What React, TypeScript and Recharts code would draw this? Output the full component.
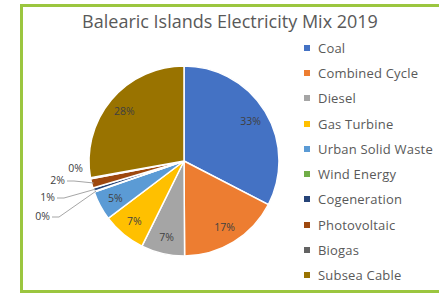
import React from 'react';
import { PieChart, Pie, Cell, Legend } from 'recharts';

const categories = [
  'Coal',
  'Combined Cycle',
  'Diesel',
  'Gas Turbine',
  'Urban Solid Waste',
  'Wind Energy',
  'Cogeneration',
  'Photovoltaic',
  'Biogas',
  'Subsea Cable',
];
// share of generation, %
const shares = [32.6, 17.3, 7.4, 7.4, 5.0, 0.1, 0.6, 1.6, 0.2, 27.8];
const colors = [
  '#4472C4',
  '#ED7D31',
  '#A5A5A5',
  '#FFC000',
  '#5B9BD5',
  '#70AD47',
  '#264478',
  '#9E480E',
  '#636363',
  '#997300',
];

const data = categories.map((name, i) => ({ name, value: shares[i] }));

const CX = 179;
const CY = 156;
const R = 95;
const RAD = Math.PI / 180;
const FONT = '"Open Sans", "Noto Sans", sans-serif';

// where the callouts of the thin slices sit, relative to the pie centre
const callouts: Record<number, { dx: number; dy: number; line: boolean }> = {
  5: { dx: -134, dy: 55, line: true },
  6: { dx: -129, dy: 36, line: true },
  7: { dx: -119, dy: 19, line: true },
  8: { dx: -101, dy: 7, line: false },
};

const renderLabel = (props: any) => {
  const { cx, cy, midAngle, outerRadius, percent, index } = props;
  const text = `${Math.round(percent * 100)}%`;
  const c = callouts[index];
  if (!c) {
    const r = outerRadius * 0.82;
    const x = cx + r * Math.cos(-midAngle * RAD);
    const y = cy + r * Math.sin(-midAngle * RAD);
    return (
      <text x={x} y={y} fill="#404040" fontSize={10.5} fontFamily={FONT} textAnchor="middle" dominantBaseline="central">
        {text}
      </text>
    );
  }
  const tx = cx + c.dx;
  const ty = cy + c.dy;
  const ex = cx + (outerRadius - 2) * Math.cos(-midAngle * RAD);
  const ey = cy + (outerRadius - 2) * Math.sin(-midAngle * RAD);
  return (
    <g>
      {c.line && (
        <polyline
          points={`${tx + 2},${ty + 1} ${tx + 9},${ty + 1} ${ex},${ey}`}
          fill="none"
          stroke="#A6A6A6"
          strokeWidth={1}
        />
      )}
      <text x={tx} y={ty} fill="#404040" fontSize={10.5} fontFamily={FONT} textAnchor="end" dominantBaseline="central">
        {text}
      </text>
    </g>
  );
};

const LegendList = () => (
  <div style={{ fontFamily: FONT, fontSize: 13, letterSpacing: 0.2, color: '#595959' }}>
    {categories.map((name, i) => (
      <div key={name} style={{ height: 25.3, display: 'flex', alignItems: 'center', whiteSpace: 'nowrap' }}>
        <span style={{ width: 6, height: 6, background: colors[i], marginRight: 8, display: 'inline-block' }} />
        {name}
      </div>
    ))}
  </div>
);

export default function App() {
  return (
    <div style={{ position: 'absolute', left: 0, top: 0, width: 439, height: 293, overflow: 'hidden', background: '#fff' }}>
      <div
        style={{
          position: 'absolute',
          left: 20,
          top: 4,
          width: 440,
          height: 283,
          borderLeft: '3px solid #9BC63F',
          borderTop: '3px solid #9BC63F',
          borderBottom: '3px solid #9BC63F',
        }}
      />
      <div
        style={{
          position: 'absolute',
          left: 0,
          top: 9,
          width: 460,
          textAlign: 'center',
          fontFamily: FONT,
          fontSize: 18,
          color: '#595959',
        }}
      >
        Balearic Islands Electricity Mix 2019
      </div>
      <div style={{ position: 'absolute', left: 0, top: 0 }}>
        <PieChart width={439} height={293}>
          <Pie
            data={data}
            dataKey="value"
            nameKey="name"
            cx={CX}
            cy={CY}
            outerRadius={R}
            startAngle={90}
            endAngle={-270}
            stroke="#fff"
            strokeWidth={1.5}
            label={renderLabel}
            labelLine={false}
            isAnimationActive={false}
          >
            {data.map((d, i) => (
              <Cell key={d.name} fill={colors[i]} />
            ))}
          </Pie>
          <Legend
            layout="vertical"
            align="right"
            verticalAlign="top"
            content={() => <LegendList />}
            wrapperStyle={{ left: 304, top: 35, width: 140 }}
          />
        </PieChart>
      </div>
    </div>
  );
}
